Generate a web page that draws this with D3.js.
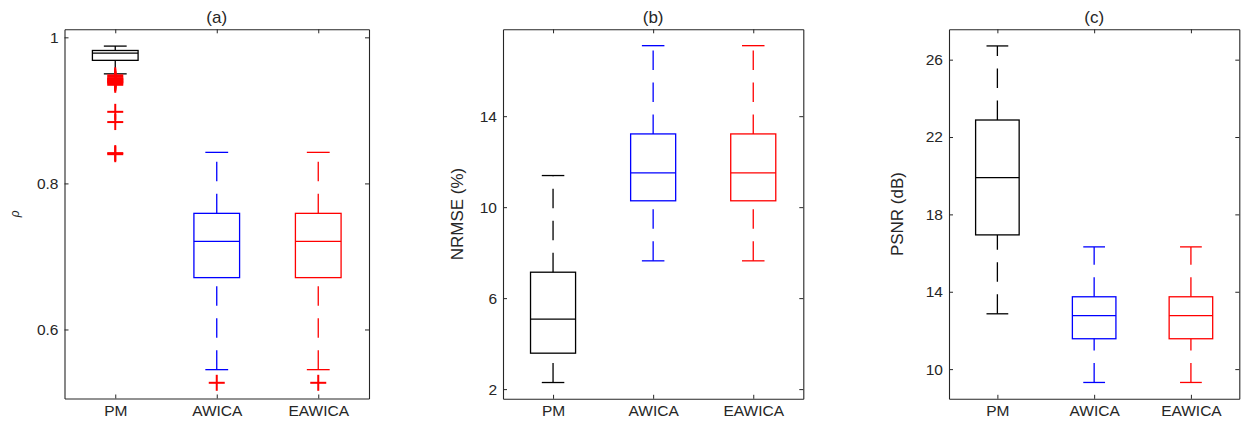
<!DOCTYPE html>
<meta charset="utf-8">
<title>Box plots</title>
<script src="https://d3js.org/d3.v7.min.js"></script>
<style>
  body { margin: 0; background: #fff; }
  text { font-family: "Liberation Sans", Arial, Helvetica, sans-serif; fill: #262626; }
</style>
<body>
<div id="my_dataviz"></div>
<script>

// categories and colours
var methods = ["PM", "AWICA", "EAWICA"];
var methodColors = ["#000000", "#0000ff", "#ff0000"];

// box stats per method: [lower whisker, q1, median, q3, upper whisker]
var rhoStats = [
  [0.950, 0.9685, 0.9785, 0.982, 0.988],
  [0.545, 0.671, 0.7205, 0.759, 0.8425],
  [0.545, 0.671, 0.7205, 0.759, 0.8425]
];
var rhoOutliers = [
  [0.948, 0.946, 0.944, 0.943, 0.942, 0.941, 0.940, 0.939, 0.938, 0.937, 0.935, 0.898, 0.884, 0.8415, 0.8400],
  [0.527],
  [0.527]
];
var nrmseStats = [
  [2.29, 3.58, 5.08, 7.14, 11.39],
  [7.64, 10.28, 11.51, 13.22, 17.10],
  [7.64, 10.28, 11.51, 13.22, 17.10]
];
var psnrStats = [
  [12.86, 16.94, 19.90, 22.88, 26.71],
  [9.31, 11.57, 12.77, 13.74, 16.32],
  [9.31, 11.57, 12.77, 13.74, 16.32]
];

// tick values
var rhoTicks = [0.6, 0.8, 1];
var nrmseTicks = [2, 6, 10, 14];
var psnrTicks = [10, 14, 18, 22, 26];

var W = 1248, H = 430;
var svg = d3.select("#my_dataviz").append("svg")
  .attr("width", W).attr("height", H);

var axisColor = "#262626";

function drawPanel(opt) {
  var x = d3.scaleLinear().domain([0.5, 3.5]).range([opt.left, opt.right]);
  var y = d3.scaleLinear().domain(opt.ydomain).range([opt.bottom, opt.top]);
  var g = svg.append("g");

  // axes (ticks inside, box on)
  var ax = [
    [d3.axisLeft(y).tickValues(opt.ticks).tickFormat(d3.format("~g")), opt.left, 0, true],
    [d3.axisRight(y).tickValues(opt.ticks).tickFormat(""), opt.right, 0, false],
    [d3.axisBottom(x).tickValues([1, 2, 3]).tickFormat(function (d) { return methods[d - 1]; }), 0, opt.bottom, true],
    [d3.axisTop(x).tickValues([1, 2, 3]).tickFormat(""), 0, opt.top, false]
  ];
  ax.forEach(function (a) {
    var ag = g.append("g")
      .attr("transform", "translate(" + a[1] + "," + a[2] + ")")
      .call(a[0].tickSizeInner(-4).tickSizeOuter(0).tickPadding(6));
    ag.select(".domain").attr("stroke", axisColor).attr("stroke-width", 1.1);
    ag.selectAll(".tick line").attr("stroke", axisColor).attr("stroke-width", 1);
    ag.selectAll("text").style("font-size", "15.5px").attr("fill", axisColor)
      .style("font-family", "'Liberation Sans', Arial, sans-serif");
  });

  // title
  g.append("text")
    .attr("x", (opt.left + opt.right) / 2).attr("y", 23)
    .attr("text-anchor", "middle")
    .style("font-size", "17px")
    .text(opt.title);

  // y label
  g.append("text")
    .attr("transform", "translate(" + opt.ylabelX + "," + (opt.top + opt.bottom) / 2 + ") rotate(-90)")
    .attr("text-anchor", "middle")
    .style("font-size", opt.ylabelSize)
    .style("font-style", opt.ylabelItalic ? "italic" : "normal")
    .text(opt.ylabel);

  var step = x(2) - x(1);
  var bw = step * 0.45, cw = bw / 2;

  opt.stats.forEach(function (s, i) {
    var cx = x(i + 1), col = methodColors[i];
    var bg = g.append("g").attr("stroke", col).attr("fill", "none").attr("stroke-width", 1.3);
    // whiskers, drawn from lower end upwards (dash pattern start)
    bg.append("line").attr("x1", cx).attr("x2", cx).attr("y1", y(s[0])).attr("y2", y(s[1]))
      .attr("stroke-dasharray", "19.5,12.5");
    bg.append("line").attr("x1", cx).attr("x2", cx).attr("y1", y(s[3])).attr("y2", y(s[4]))
      .attr("stroke-dasharray", "19.5,12.5");
    // caps
    [s[0], s[4]].forEach(function (v) {
      bg.append("line").attr("x1", cx - cw / 2).attr("x2", cx + cw / 2)
        .attr("y1", y(v)).attr("y2", y(v));
    });
    // box
    bg.append("rect").attr("x", cx - bw / 2).attr("width", bw)
      .attr("y", y(s[3])).attr("height", y(s[1]) - y(s[3]));
    // median
    bg.append("line").attr("x1", cx - bw / 2).attr("x2", cx + bw / 2)
      .attr("y1", y(s[2])).attr("y2", y(s[2]));

    // outliers as red plus markers
    var outs = (opt.outliers && opt.outliers[i]) || [];
    outs.forEach(function (v) {
      var og = g.append("g").attr("stroke", "#ff0000").attr("stroke-width", 2);
      og.append("line").attr("x1", cx - 8).attr("x2", cx + 8).attr("y1", y(v)).attr("y2", y(v));
      og.append("line").attr("x1", cx).attr("x2", cx).attr("y1", y(v) - 8).attr("y2", y(v) + 8);
    });
  });
}

drawPanel({
  left: 64.5, right: 369, top: 29.3, bottom: 398.5,
  ydomain: [0.5055, 1.011], ticks: rhoTicks,
  stats: rhoStats, outliers: rhoOutliers,
  title: "(a)", ylabel: "\u03c1", ylabelX: 19, ylabelSize: "12px", ylabelItalic: true
});
drawPanel({
  left: 503, right: 803.3, top: 29.3, bottom: 398.8,
  ydomain: [1.574, 17.82], ticks: nrmseTicks,
  stats: nrmseStats,
  title: "(b)", ylabel: "NRMSE (%)", ylabelX: 463, ylabelSize: "17px"
});
drawPanel({
  left: 949, right: 1239.3, top: 29.3, bottom: 398.8,
  ydomain: [8.465, 27.57], ticks: psnrTicks,
  stats: psnrStats,
  title: "(c)", ylabel: "PSNR (dB)", ylabelX: 903, ylabelSize: "17px"
});

</script>
</body>
